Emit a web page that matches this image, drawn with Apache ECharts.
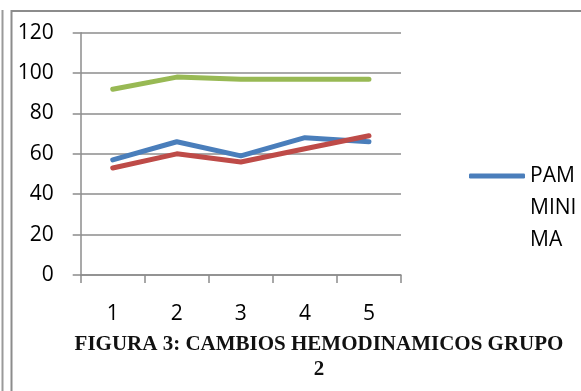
<!DOCTYPE html>
<html>
<head>
<meta charset="utf-8">
<script src="https://cdn.jsdelivr.net/npm/echarts@6/dist/echarts.min.js"></script>
<style>
  html, body { margin: 0; padding: 0; background: #fff; }
  #chart { width: 581px; height: 391px; }
</style>
</head>
<body>
<div id="chart"></div>
<script>
// Categories and series values
const categories = ['1', '2', '3', '4', '5'];
const pamMinima = [57, 66, 59, 68, 66];
const serie2 = [53, 60, 56, 62.5, 69];
const serie3 = [92, 98, 97, 97, 97];
const yTicks = { min: 0, max: 120, interval: 20 };

const captionText = 'FIGURA 3: CAMBIOS HEMODINAMICOS GRUPO\n2';
const gridColor = '#8c8c8c';
const labelFont = '"Open Sans", "Noto Sans", sans-serif';

const chart = echarts.init(document.getElementById('chart'), null, { renderer: 'canvas' });

function lineSeries(name, data, color) {
  return {
    name: name,
    type: 'line',
    data: data,
    symbol: 'none',
    showSymbol: false,
    lineStyle: { color: color, width: 5, cap: 'round', join: 'round' },
    itemStyle: { color: color },
    emphasis: { disabled: true },
    animation: false
  };
}

chart.setOption({
  animation: false,
  backgroundColor: '#ffffff',
  title: {
    text: captionText,
    left: 319,
    top: 332,
    textAlign: 'center',
    padding: 0,
    textStyle: {
      fontFamily: '"Liberation Serif", "Times New Roman", serif',
      fontWeight: 'bold',
      fontSize: 21,
      lineHeight: 25,
      color: '#111'
    }
  },
  legend: {
    // legend label wraps in a narrow box; two empty lines above keep "PAM" level with the key line
    data: [{ name: 'PAM MINIMA', icon: 'roundRect' }],
    left: 469,
    top: 96,
    padding: 0,
    itemWidth: 56,
    itemHeight: 5,
    itemGap: 0,
    selectedMode: false,
    formatter: () => '\n\nPAM\nMINI\nMA',
    textStyle: {
      fontFamily: labelFont,
      fontSize: 21,
      lineHeight: 32,
      color: '#000'
    }
  },
  grid: {
    left: 80.7,
    top: 32.7,
    right: 180,
    bottom: 116
  },
  xAxis: {
    type: 'category',
    data: categories,
    boundaryGap: true,
    axisLine: { show: true, lineStyle: { color: gridColor, width: 1.5 } },
    axisTick: { show: true, length: 8, alignWithLabel: false, lineStyle: { color: gridColor, width: 1.5 } },
    axisLabel: { margin: 29, fontFamily: labelFont, fontSize: 21, color: '#000' },
    splitLine: { show: false }
  },
  yAxis: {
    type: 'value',
    min: yTicks.min,
    max: yTicks.max,
    interval: yTicks.interval,
    axisLine: { show: true, lineStyle: { color: gridColor, width: 1.5 } },
    axisTick: { show: true, length: 8, lineStyle: { color: gridColor, width: 1.5 } },
    axisLabel: { margin: 27, fontFamily: labelFont, fontSize: 21, color: '#000' },
    splitLine: { show: true, lineStyle: { color: gridColor, width: 1.5 } }
  },
  series: [
    lineSeries('PAM MINIMA', pamMinima, '#4a7ebb'),
    lineSeries('Serie 2', serie2, '#be4b48'),
    lineSeries('Serie 3', serie3, '#98b954')
  ],
  graphic: [
    // page frame lines around the figure
    {
      type: 'line',
      shape: { x1: 2.5, y1: 10, x2: 2.5, y2: 391 },
      style: { stroke: '#9a9a9a', lineWidth: 2 },
      silent: true
    },
    {
      type: 'polyline',
      shape: { points: [[11.5, 391], [11.5, 11], [581, 11]] },
      style: { stroke: '#8c8c8c', lineWidth: 2, fill: null },
      silent: true
    }
  ]
});
</script>
</body>
</html>
